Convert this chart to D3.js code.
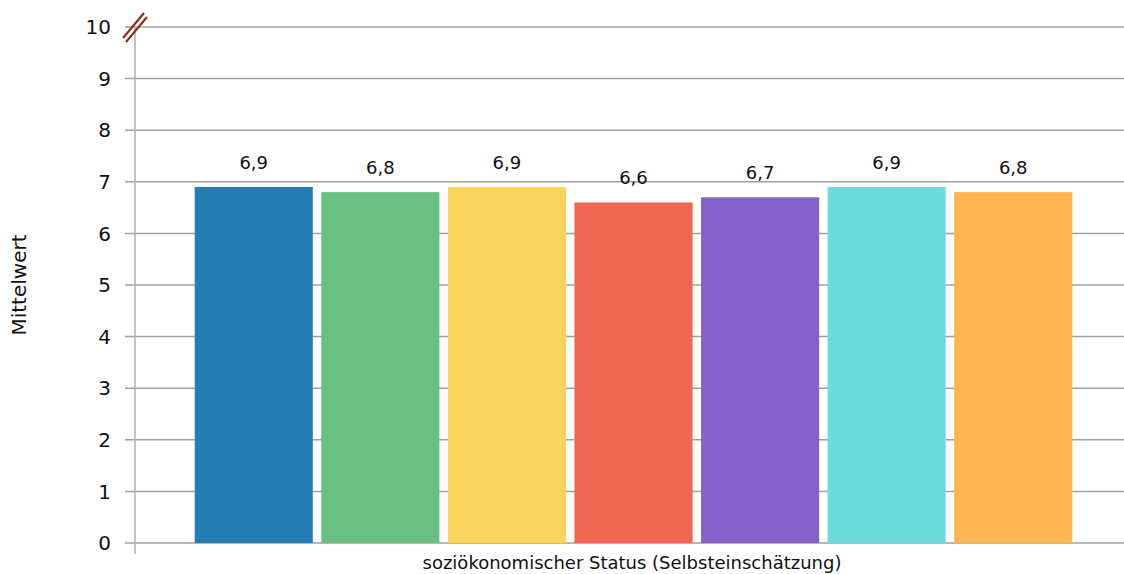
<!DOCTYPE html>
<html>
<head>
<meta charset="utf-8">
<script src="https://cdn.jsdelivr.net/npm/d3@7"></script>
<style>
  body { margin: 0; background: #fff; }
  text { font-family: "DejaVu Sans", sans-serif; fill: #111; }
</style>
</head>
<body>
<div id="container"></div>
<script>
// mean values per socio-economic status group
var categories = ["1", "2", "3", "4", "5", "6", "7"];
var values = [6.9, 6.8, 6.9, 6.6, 6.7, 6.9, 6.8];
var labels = ["6,9", "6,8", "6,9", "6,6", "6,7", "6,9", "6,8"];
var colors = ["#267db3", "#68c182", "#f8d45c", "#f0664e", "#8562c9", "#69dddb", "#ffb652"];
var yTicks = [0, 1, 2, 3, 4, 5, 6, 7, 8, 9, 10];

var W = 1124, H = 574;
var plotL = 135, plotR = 1124, plotT = 27, plotB = 543;

var svg = d3.select("#container").append("svg")
    .attr("width", W)
    .attr("height", H);

// bars sit a few px right of the plot centre in the original
var x = d3.scaleBand().domain(categories).range([plotL + 4, plotR + 4])
    .paddingInner(0.067).paddingOuter(0.44);
var y = d3.scaleLinear().domain([0, 10]).range([plotB, plotT]);

// gridlines
svg.append("g")
    .selectAll("line")
    .data(yTicks)
  .enter().append("line")
    .attr("x1", plotL - 10)
    .attr("x2", plotR)
    .attr("y1", function(d) { return y(d); })
    .attr("y2", function(d) { return y(d); })
    .attr("stroke", "#a0a0a0")
    .attr("stroke-width", 1.5);

// y axis line
svg.append("line")
    .attr("x1", plotL).attr("x2", plotL)
    .attr("y1", plotT).attr("y2", plotB + 11)
    .attr("stroke", "#b0b0b0")
    .attr("stroke-width", 1.5);

// tick labels
svg.append("g")
    .selectAll("text")
    .data(yTicks)
  .enter().append("text")
    .attr("x", plotL - 24)
    .attr("y", function(d) { return y(d); })
    .attr("dy", "0.36em")
    .attr("text-anchor", "end")
    .style("font-size", "20px")
    .text(function(d) { return d; });

// bars
svg.append("g")
    .selectAll("rect")
    .data(values)
  .enter().append("rect")
    .attr("x", function(d, i) { return x(categories[i]); })
    .attr("width", x.bandwidth())
    .attr("y", function(d) { return y(d); })
    .attr("height", function(d) { return y(0) - y(d); })
    .attr("fill", function(d, i) { return colors[i]; });

// value labels
svg.append("g")
    .selectAll("text")
    .data(values)
  .enter().append("text")
    .attr("x", function(d, i) { return x(categories[i]) + x.bandwidth() / 2; })
    .attr("y", function(d) { return y(d) - 18; })
    .attr("text-anchor", "middle")
    .style("font-size", "18px")
    .text(function(d, i) { return labels[i]; });

// axis break mark at the top
var brk = svg.append("g").attr("stroke", "#8b2a0a").attr("stroke-width", 2);
brk.append("line").attr("x1", 123).attr("y1", 38).attr("x2", 144).attr("y2", 13);
brk.append("line").attr("x1", 126).attr("y1", 42).attr("x2", 147).attr("y2", 17);

// axis titles
svg.append("text")
    .attr("x", 632)
    .attr("y", 569)
    .attr("text-anchor", "middle")
    .style("font-size", "18px")
    .text("soziökonomischer Status (Selbsteinschätzung)");

svg.append("text")
    .attr("transform", "translate(26," + ((plotT + plotB) / 2) + ") rotate(-90)")
    .attr("text-anchor", "middle")
    .style("font-size", "20px")
    .text("Mittelwert");
</script>
</body>
</html>
